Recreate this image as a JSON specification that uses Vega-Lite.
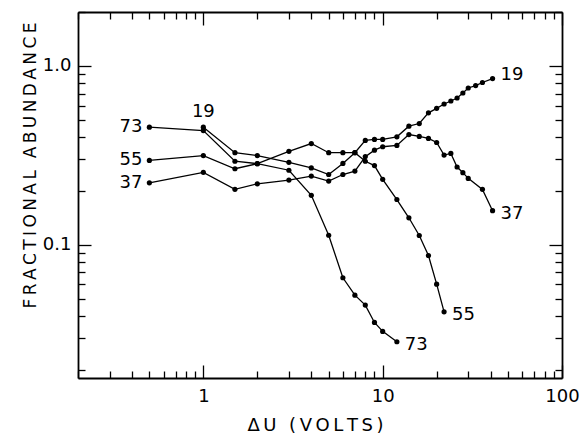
{
  "$schema": "https://vega.github.io/schema/vega-lite/v6.json",
  "width": 484,
  "height": 366,
  "autosize": {"type": "none"},
  "padding": {"left": 78, "top": 12, "right": 19, "bottom": 57},
  "background": "white",
  "config": {"view": {"stroke": null}, "font": "DejaVu Sans"},
  "data": {"values": [
    {"series": "73", "x": 0.5, "y": 0.454}, {"series": "73", "x": 1, "y": 0.435}, {"series": "73", "x": 1.5, "y": 0.293},
    {"series": "73", "x": 2, "y": 0.284}, {"series": "73", "x": 3, "y": 0.261}, {"series": "73", "x": 4, "y": 0.189},
    {"series": "73", "x": 5, "y": 0.113}, {"series": "73", "x": 6, "y": 0.0654}, {"series": "73", "x": 7, "y": 0.0523},
    {"series": "73", "x": 8, "y": 0.046}, {"series": "73", "x": 9, "y": 0.0368}, {"series": "73", "x": 10, "y": 0.0328},
    {"series": "73", "x": 12, "y": 0.0287},
    {"series": "55", "x": 0.5, "y": 0.296}, {"series": "55", "x": 1, "y": 0.315}, {"series": "55", "x": 1.5, "y": 0.266},
    {"series": "55", "x": 2, "y": 0.284}, {"series": "55", "x": 3, "y": 0.333}, {"series": "55", "x": 4, "y": 0.368},
    {"series": "55", "x": 5, "y": 0.327}, {"series": "55", "x": 6, "y": 0.327}, {"series": "55", "x": 7, "y": 0.327},
    {"series": "55", "x": 8, "y": 0.293}, {"series": "55", "x": 9, "y": 0.277}, {"series": "55", "x": 10, "y": 0.232},
    {"series": "55", "x": 12, "y": 0.179}, {"series": "55", "x": 14, "y": 0.1415}, {"series": "55", "x": 16, "y": 0.1127},
    {"series": "55", "x": 18, "y": 0.0871}, {"series": "55", "x": 20, "y": 0.0602}, {"series": "55", "x": 22, "y": 0.0422},
    {"series": "37", "x": 0.5, "y": 0.222}, {"series": "37", "x": 1, "y": 0.254}, {"series": "37", "x": 1.5, "y": 0.204},
    {"series": "37", "x": 2, "y": 0.219}, {"series": "37", "x": 3, "y": 0.23}, {"series": "37", "x": 4, "y": 0.242},
    {"series": "37", "x": 5, "y": 0.227}, {"series": "37", "x": 6, "y": 0.247}, {"series": "37", "x": 7, "y": 0.258},
    {"series": "37", "x": 8, "y": 0.311}, {"series": "37", "x": 9, "y": 0.338}, {"series": "37", "x": 10, "y": 0.353},
    {"series": "37", "x": 12, "y": 0.359}, {"series": "37", "x": 14, "y": 0.413}, {"series": "37", "x": 16, "y": 0.403},
    {"series": "37", "x": 18, "y": 0.393}, {"series": "37", "x": 20, "y": 0.373}, {"series": "37", "x": 22, "y": 0.317},
    {"series": "37", "x": 24, "y": 0.324}, {"series": "37", "x": 26, "y": 0.272}, {"series": "37", "x": 28, "y": 0.253},
    {"series": "37", "x": 30, "y": 0.235}, {"series": "37", "x": 36, "y": 0.204}, {"series": "37", "x": 41, "y": 0.155},
    {"series": "19", "x": 1, "y": 0.454}, {"series": "19", "x": 1.5, "y": 0.327}, {"series": "19", "x": 2, "y": 0.315},
    {"series": "19", "x": 3, "y": 0.289}, {"series": "19", "x": 4, "y": 0.269}, {"series": "19", "x": 5, "y": 0.247},
    {"series": "19", "x": 6, "y": 0.285}, {"series": "19", "x": 7, "y": 0.327}, {"series": "19", "x": 8, "y": 0.383},
    {"series": "19", "x": 9, "y": 0.388}, {"series": "19", "x": 10, "y": 0.388}, {"series": "19", "x": 12, "y": 0.401},
    {"series": "19", "x": 14, "y": 0.46}, {"series": "19", "x": 16, "y": 0.476}, {"series": "19", "x": 18, "y": 0.546},
    {"series": "19", "x": 20, "y": 0.579}, {"series": "19", "x": 22, "y": 0.612}, {"series": "19", "x": 24, "y": 0.636},
    {"series": "19", "x": 26, "y": 0.661}, {"series": "19", "x": 28, "y": 0.705}, {"series": "19", "x": 30, "y": 0.752},
    {"series": "19", "x": 33, "y": 0.776}, {"series": "19", "x": 36, "y": 0.807}, {"series": "19", "x": 41, "y": 0.849}
  ]},
  "layer": [
    {
      "mark": {"type": "line", "color": "black", "strokeWidth": 1.3, "point": {"filled": true, "color": "black", "size": 27, "opacity": 1}},
      "encoding": {
        "x": {"field": "x", "type": "quantitative",
          "scale": {"type": "log", "domain": [0.2, 100], "nice": false},
          "axis": {"orient": "bottom", "title": "Δ\u2009U\u2002\u2009(\u2009V\u2009O\u2009L\u2009T\u2009S\u2009)", "values": [0.2,0.3,0.4,0.5,0.6,0.7,0.8,0.9,1,2,3,4,5,6,7,8,9,10,20,30,40,50,60,70,80,90,100],
            "labelExpr": "datum.value == 1 ? '1' : datum.value == 10 ? '10' : datum.value == 100 ? '100' : ''",
            "labelOverlap": false, "labelFlush": false, "labelFontSize": 18, "labelColor": "black", "labelPadding": 22,
            "tickSize": -13,
            "tickDash": {"condition": {"test": "datum.value == 1 || datum.value == 10 || datum.value == 100", "value": [14, 0]}, "value": [7, 30]},
            "tickColor": "black", "tickWidth": 1.3, "domainColor": "black", "domainWidth": 1.8, "grid": false,
            "titleFontSize": 18, "titleFontWeight": "normal", "titleColor": "black", "titlePadding": 11, "titleX": 237}
        },
        "y": {"field": "y", "type": "quantitative",
          "scale": {"type": "log", "domain": [0.018, 2], "nice": false},
          "axis": {"orient": "left", "title": "F\u2009R\u2009A\u2009C\u2009T\u2009I\u2009O\u2009N\u2009A\u2009L\u2002\u2009A\u2009B\u2009U\u2009N\u2009D\u2009A\u2009N\u2009C\u2009E", "values": [0.02,0.03,0.04,0.05,0.06,0.07,0.08,0.09,0.1,0.2,0.3,0.4,0.5,0.6,0.7,0.8,0.9,1,2],
            "labelExpr": "datum.value == 1 ? '1.0' : datum.value == 0.1 ? '0.1' : ''",
            "labelOverlap": false, "labelFlush": false, "labelFontSize": 18, "labelColor": "black", "labelPadding": 20,
            "tickSize": -13,
            "tickDash": {"condition": {"test": "datum.value == 1 || datum.value == 0.1", "value": [14, 0]}, "value": [7, 30]},
            "tickColor": "black", "tickWidth": 1.3, "domainColor": "black", "domainWidth": 1.8, "grid": false,
            "titleFontSize": 17, "titleFontWeight": "normal", "titleColor": "black", "titlePadding": 3, "titleY": 153}
        },
        "detail": {"field": "series"}
      }
    },
    {
      "transform": [{"filter": "datum.x == 0.5"}],
      "mark": {"type": "text", "align": "right", "baseline": "middle", "dx": -7, "fontSize": 18, "color": "black"},
      "encoding": {
        "x": {"field": "x", "type": "quantitative",
          "axis": {"orient": "top", "title": null, "labels": false, "values": [0.2,0.3,0.4,0.5,0.6,0.7,0.8,0.9,1,2,3,4,5,6,7,8,9,10,20,30,40,50,60,70,80,90,100],
            "tickSize": -13,
            "tickDash": {"condition": {"test": "datum.value == 1 || datum.value == 10 || datum.value == 100", "value": [14, 0]}, "value": [7, 30]},
            "tickColor": "black", "tickWidth": 1.3, "domainColor": "black", "domainWidth": 1.8, "grid": false}},
        "y": {"field": "y", "type": "quantitative",
          "axis": {"orient": "right", "title": null, "labels": false, "values": [0.02,0.03,0.04,0.05,0.06,0.07,0.08,0.09,0.1,0.2,0.3,0.4,0.5,0.6,0.7,0.8,0.9,1,2],
            "tickSize": -13,
            "tickDash": {"condition": {"test": "datum.value == 1 || datum.value == 0.1", "value": [14, 0]}, "value": [7, 30]},
            "tickColor": "black", "tickWidth": 1.3, "domainColor": "black", "domainWidth": 1.8, "grid": false}},
        "text": {"field": "series"}
      }
    },
    {
      "transform": [{"filter": "datum.series == '19' && datum.x == 1"}],
      "mark": {"type": "text", "align": "center", "baseline": "bottom", "dy": -6, "fontSize": 18, "color": "black"},
      "encoding": {
        "x": {"field": "x", "type": "quantitative", "axis": null},
        "y": {"field": "y", "type": "quantitative", "axis": null},
        "text": {"field": "series"}
      }
    },
    {
      "transform": [
        {"joinaggregate": [{"op": "max", "field": "x", "as": "maxx"}], "groupby": ["series"]},
        {"filter": "datum.x == datum.maxx && datum.series == '19'"}
      ],
      "mark": {"type": "text", "align": "left", "baseline": "middle", "dx": 8, "dy": -4, "fontSize": 18, "color": "black"},
      "encoding": {
        "x": {"field": "x", "type": "quantitative", "axis": null},
        "y": {"field": "y", "type": "quantitative", "axis": null},
        "text": {"field": "series"}
      }
    },
    {
      "transform": [
        {"joinaggregate": [{"op": "max", "field": "x", "as": "maxx"}], "groupby": ["series"]},
        {"filter": "datum.x == datum.maxx && datum.series != '19'"}
      ],
      "mark": {"type": "text", "align": "left", "baseline": "middle", "dx": 8, "dy": 3, "fontSize": 18, "color": "black"},
      "encoding": {
        "x": {"field": "x", "type": "quantitative", "axis": null},
        "y": {"field": "y", "type": "quantitative", "axis": null},
        "text": {"field": "series"}
      }
    }
  ],
  "resolve": {"axis": {"x": "independent", "y": "independent"}}
}
